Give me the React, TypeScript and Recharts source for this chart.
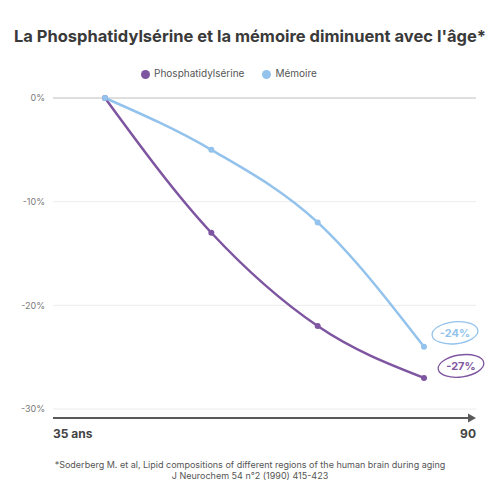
import { CartesianGrid, Legend, Line, LineChart, ReferenceLine, XAxis, YAxis } from "recharts"

const categories = ["P1", "P2", "P3", "P4"]
const phosphatidylserine = [0, -13, -22, -27]
const memoire = [0, -5, -12, -24]
const yTicks = [0, -10, -20, -30]
const axisStart = "35 ans"
const axisEnd = "90"

const PURPLE = "#7e55a0"
const BLUE = "#93c3ec"
const FONT = "Inter, 'Open Sans', sans-serif"

const data = categories.map((c, i) => ({
  cat: c,
  ps: phosphatidylserine[i],
  mem: memoire[i],
}))

const legendOrder = ["ps", "mem"]

function ArrowAxis(props: any) {
  const vb = props.viewBox
  if (!vb) return null
  const y = vb.y + 9
  const x1 = vb.x
  const x2 = vb.x + vb.width
  return (
    <g>
      <line x1={x1} x2={x2 - 6} y1={y} y2={y} stroke="#5a5a5a" strokeWidth={2} />
      <path d={`M${x2 - 8},${y - 4.5} L${x2},${y} L${x2 - 8},${y + 4.5} Z`} fill="#5a5a5a" />
      <text x={x1} y={y + 20} fontSize={12} fontWeight={700} fill="#444" fontFamily={FONT}>
        {axisStart}
      </text>
      <text x={x2} y={y + 20} fontSize={12} fontWeight={700} fill="#444" textAnchor="end" fontFamily={FONT}>
        {axisEnd}
      </text>
    </g>
  )
}

function endBadge(color: string, dx: number, dy: number, rot: number) {
  return (props: any) => {
    const { x, y, index, value } = props
    if (index !== categories.length - 1) return null
    const cx = x + dx
    const cy = y + dy
    return (
      <g>
        <ellipse
          cx={cx}
          cy={cy}
          rx={23}
          ry={11}
          fill="none"
          stroke={color}
          strokeWidth={1.3}
          transform={`rotate(${rot} ${cx} ${cy})`}
        />
        <text
          x={cx}
          y={cy + 4}
          textAnchor="middle"
          fontSize={11}
          fontWeight={700}
          fill={color}
          fontFamily={FONT}
        >
          {`${value}%`}
        </text>
      </g>
    )
  }
}

export default function App() {
  return (
    <div
      style={{
        position: "absolute",
        left: 0,
        top: 0,
        width: 500,
        height: 500,
        background: "#fff",
        fontFamily: FONT,
      }}
    >
      <div
        style={{
          position: "absolute",
          top: 26,
          width: 500,
          textAlign: "center",
          fontSize: 16.5,
          fontWeight: 700,
          color: "#3a3a3a",
        }}
      >
        La Phosphatidylsérine et la mémoire diminuent avec l'âge*
      </div>
      <LineChart
        width={500}
        height={500}
        data={data}
        margin={{ top: 86, right: 24, left: 0, bottom: 61 }}
      >
        <CartesianGrid horizontal vertical={false} stroke="#ececec" />
        <XAxis
          dataKey="cat"
          padding={{ left: 52, right: 52 }}
          axisLine={false}
          tickLine={false}
          tick={false}
          height={30}
          label={{ content: ArrowAxis }}
        />
        <YAxis
          domain={[-30, 0]}
          ticks={yTicks}
          width={53}
          axisLine={false}
          tickLine={false}
          tickFormatter={(v) => `${v}%`}
          tick={{ fontSize: 9, fill: "#7a7a7a", fontFamily: FONT }}
        />
        <ReferenceLine y={0} stroke="#c8c8c8" />
        <Legend
          verticalAlign="top"
          iconType="circle"
          iconSize={9}
          itemSorter={(item: any) => legendOrder.indexOf(item.dataKey)}
          wrapperStyle={{ top: 67, fontSize: 10, fontFamily: FONT }}
          formatter={(value) => <span style={{ color: "#555", marginRight: 8 }}>{value}</span>}
        />
        <Line
          type="monotone"
          dataKey="ps"
          name="Phosphatidylsérine"
          stroke={PURPLE}
          strokeWidth={2.5}
          dot={{ r: 3, fill: PURPLE, stroke: PURPLE, strokeWidth: 0 }}
          activeDot={false}
          isAnimationActive={false}
          label={endBadge(PURPLE, 37, -12, -8)}
        />
        <Line
          type="monotone"
          dataKey="mem"
          name="Mémoire"
          stroke={BLUE}
          strokeWidth={2.5}
          dot={{ r: 3, fill: BLUE, stroke: BLUE, strokeWidth: 0 }}
          activeDot={false}
          isAnimationActive={false}
          label={endBadge(BLUE, 31, -14, -6)}
        />
      </LineChart>
      <div
        style={{
          position: "absolute",
          top: 459,
          width: 500,
          textAlign: "center",
          fontSize: 9,
          lineHeight: "11px",
          color: "#555",
        }}
      >
        *Soderberg M. et al, Lipid compositions of different regions of the human brain during aging
        <br />
        J Neurochem 54 n°2 (1990) 415-423
      </div>
    </div>
  )
}
